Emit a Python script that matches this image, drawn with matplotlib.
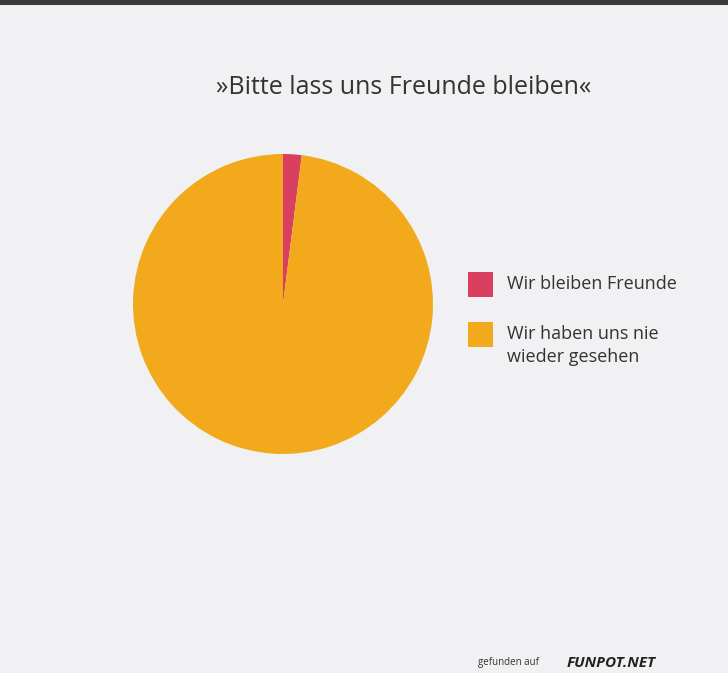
import matplotlib
matplotlib.use("Agg")
import matplotlib.pyplot as plt
from matplotlib.patches import Rectangle

labels = ["Wir bleiben Freunde", "Wir haben uns nie\nwieder gesehen"]
values = [2, 98]
colors = ["#d9405f", "#f2aa1c"]
title = "»Bitte lass uns Freunde bleiben«"

W, H = 728, 673
fig = plt.figure(figsize=(W / 100, H / 100), dpi=100)
fig.patch.set_facecolor("#f1f1f3")
plt.rcParams["font.family"] = ["Open Sans", "DejaVu Sans"]

# top dark strip
fig.add_artist(Rectangle((0, 1 - 5 / H), 1, 5 / H, transform=fig.transFigure,
                         color="#3a3a3a", lw=0))

ax = fig.add_axes([133 / W, (H - 455) / H, 300 / W, 302 / H])
ax.pie(values, colors=colors, startangle=90, counterclock=False,
       wedgeprops=dict(linewidth=0))
ax.set_xlim(-1, 1)
ax.set_ylim(-1, 1)
ax.set_aspect("equal")
ax.axis("off")

fig.text(404 / W, 1 - 87 / H, title, ha="center", va="center",
         fontsize=18, color="#333333")

# legend drawn by hand: square + label, top-aligned
legend_tops = [272, 322]
for c, lab, top in zip(colors, labels, legend_tops):
    fig.add_artist(Rectangle((468 / W, 1 - (top + 25) / H), 25 / W, 25 / H,
                             transform=fig.transFigure, color=c, lw=0))
    fig.text(507 / W, 1 - (top + 3) / H, lab, ha="left", va="top",
             fontsize=13, color="#333333", linespacing=1.35)

fig.text(478 / W, 1 - 663 / H, "gefunden auf", fontsize=7, color="#333333",
         ha="left", va="center")
fig.text(567 / W, 1 - 663 / H, "FUNPOT.NET", fontsize=11, color="#222222",
         fontweight="bold", fontstyle="italic", ha="left", va="center")

fig.savefig("out.png", dpi=100, facecolor=fig.get_facecolor())
